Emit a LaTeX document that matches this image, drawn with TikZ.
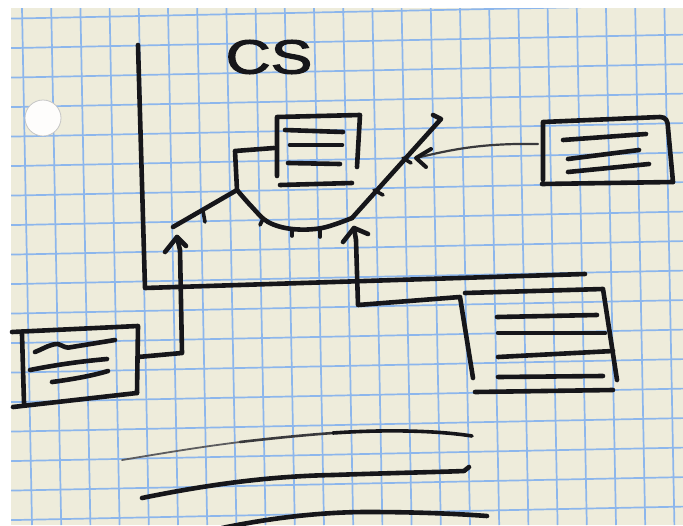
\documentclass[tikz,border=0pt]{standalone}
\usepackage{fontspec}
\setmainfont{Liberation Sans}
\newfontfamily\csfont[FakeBold=2.2]{Liberation Sans}
\definecolor{paper}{RGB}{238,236,219}
\definecolor{gridc}{RGB}{140,182,236}
\definecolor{inkc}{RGB}{22,22,26}
\begin{document}
\begin{tikzpicture}[x=1pt,y=-1pt,
  ink/.style={draw=inkc, line width=4.6pt, line cap=round, line join=round},
  thinink/.style={draw=inkc!85, line width=2.2pt, line cap=round},
  gridline/.style={draw=gridc, line width=1.7pt},
  tick/.style={draw=inkc, line width=3.6pt, line cap=round}]
\useasboundingbox (0,0) rectangle (683,525);
% paper
\fill[white] (0,0) rectangle (683,525);
\fill[paper] (11,8) rectangle (683,525);
\begin{scope}
  \clip (11,8) rectangle (683,525);
  \foreach \k in {0,...,23}
    \draw[gridline] ({22+29.2*\k},8) -- ({32+29.2*\k},525);
  \foreach \k in {0,...,18}
    \draw[gridline] (11,{18.6+29.5*\k}) -- (683,{5.1+29.5*\k});
\end{scope}
% punch hole
\fill[white!92!paper] (43,118) circle (18);
\draw[gray!45, line width=0.8pt] (43,118) circle (18);

% title
\node[inkc, font=\csfont\fontsize{48}{48}\selectfont, inner sep=0pt] (cs) at (269,57) {\scalebox{1.3}[1]{CS}};

% axes
\coordinate (axtop) at (138,45);
\coordinate (orig) at (145,288);
\coordinate (axright) at (585,274);
\draw[ink] (axtop) -- (orig) -- (axright);

% top box
\coordinate (tbTL) at (277,117);
\coordinate (tbTR) at (360,115);
\coordinate (tbBL) at (277,176);
\coordinate (tbBR) at (357,167);
\draw[ink] (tbBL) -- (tbTL) -- (tbTR) -- (tbBR);
\draw[ink] (280,185) -- (352,183);
\draw[ink] (285,130) -- (343,132);
\draw[ink] (290,145) -- (342,145);
\draw[ink] (288,163) -- (340,164);

% connector from top box to curve
\coordinate (tbL) at (274,148);
\coordinate (jn) at (237,190);
\draw[ink] (tbL) -- (235,151) -- (jn);

% the curve
\coordinate (cstart) at (173,227);
\coordinate (cmin) at (352,218);
\coordinate (cend) at (441,119);
\draw[ink] (cstart) -- (jn);
\draw[ink] plot[smooth, tension=0.6] coordinates {(237,190) (252,207) (268,222) (292,229) (322,228) (352,218)};
\draw[ink] (cmin) -- (cend) -- (433,115);
% ticks
\draw[tick] (203,211) -- (205,222);
\draw[tick] (263,219) -- (260,225);
\draw[tick] (292,229) -- (292,236);
\draw[tick] (320,228) -- (320,237);
\draw[tick] (374,190) -- (383,195);
\draw[tick] (403,158) -- (411,163);

% left box
\draw[ink] (12,332) -- (138,326) -- (137,393);
\draw[ink] (13,407) -- (137,393);
\draw[ink] (22,334) -- (24,403);
\draw[ink] (35,352) .. controls (45,348) and (50,344) .. (58,344) .. controls (64,346) and (66,349) .. (72,347) -- (115,340);
\draw[ink] (30,370) .. controls (60,364) and (85,361) .. (107,359);
\draw[ink] (52,382) .. controls (75,379) and (95,375) .. (108,371);

% connector left box -> arrow up
\coordinate (lbR) at (138,357);
\coordinate (a1tip) at (177,237);
\draw[ink] (lbR) -- (182,353) -- (180,250) -- (a1tip);
\draw[ink] (165,252) -- (a1tip) -- (186,246);

% right top box
\draw[ink] (543,180) -- (543,122) -- (660,117) .. controls (666,117) and (668,121) .. (668,128) -- (673,182);
\draw[ink] (542,184) -- (673,182);
\draw[ink] (563,140) -- (646,134);
\draw[ink] (568,159) -- (639,150);
\draw[ink] (568,172) -- (649,164);
% connector right top box -> curve
\coordinate (rbL) at (538,144);
\coordinate (a3tip) at (416,158);
\draw[thinink] (rbL) .. controls (480,143) and (450,150) .. (a3tip);
\draw[ink, line width=4pt] (431,149) -- (a3tip) -- (426,167);

% arrow 2 and connector to right bottom box
\coordinate (a2tip) at (354,228);
\coordinate (a2foot) at (358,305);
\draw[ink] (a2tip) -- (356,240) -- (a2foot) -- (460,297) -- (473,378);
\draw[ink] (343,242) -- (a2tip) -- (368,234);

% right bottom box
\draw[ink] (465,293) -- (603,289) -- (617,380);
\draw[ink] (475,392) -- (613,390);
\draw[ink] (497,317) -- (597,315);
\draw[ink] (498,333) -- (605,333);
\draw[ink] (498,357) -- (613,351);
\draw[ink] (498,377) -- (603,376);

% bottom lines
\draw[line width=1.8pt, draw=inkc!70, line cap=round] (122,460) .. controls (170,452) and (200,447) .. (240,442);
\draw[line width=2.6pt, draw=inkc!85, line cap=round] (240,442) .. controls (275,438) and (305,435) .. (333,433);
\draw[line width=3.6pt, draw=inkc, line cap=round] (333,433) .. controls (390,429) and (440,431) .. (472,436);
\draw[ink] (142,498) .. controls (220,482) and (280,476) .. (333,475) .. controls (390,473) and (440,472) .. (464,471) -- (469,467);
\draw[ink] (222,528) .. controls (280,516) and (330,512) .. (367,512) .. controls (420,512) and (460,514) .. (487,516);
\end{tikzpicture}
\end{document}
